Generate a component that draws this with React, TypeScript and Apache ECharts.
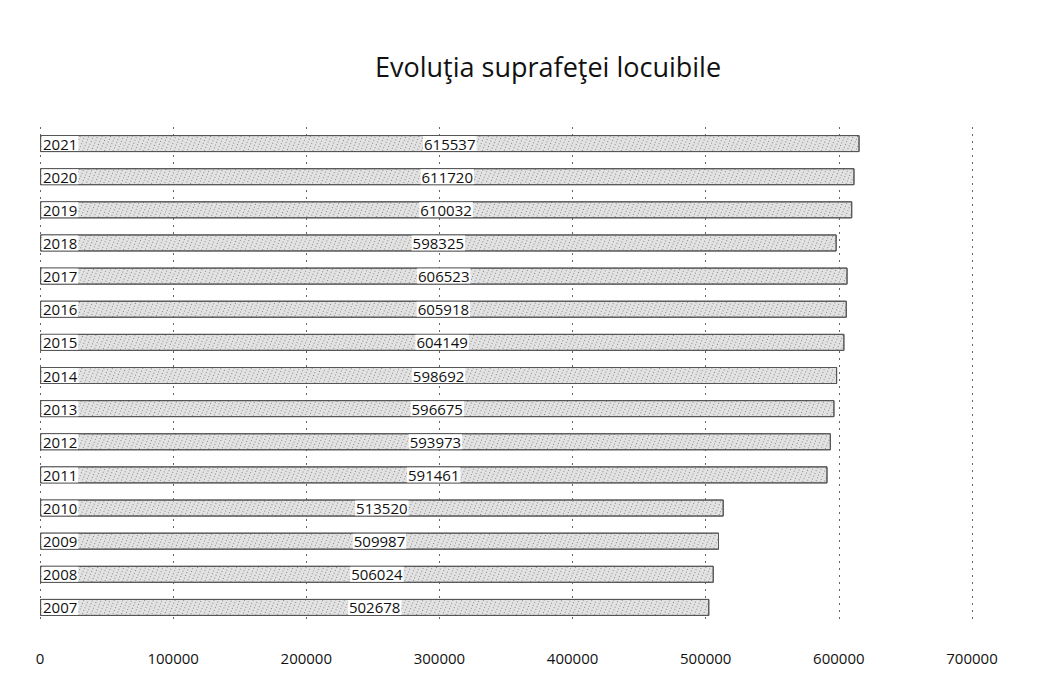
import React, { useEffect, useRef } from "react";
import * as echarts from "echarts";

const years = ["2007", "2008", "2009", "2010", "2011", "2012", "2013", "2014", "2015", "2016", "2017", "2018", "2019", "2020", "2021"];
const values = [502678, 506024, 509987, 513520, 591461, 593973, 596675, 598692, 604149, 605918, 606523, 598325, 610032, 611720, 615537];
const titleText = "Evoluţia suprafeţei locuibile";

export default function App() {
  const ref = useRef<HTMLDivElement>(null);
  useEffect(() => {
    if (!ref.current) return;
    const chart = echarts.init(ref.current, null, { renderer: "svg" });
    const font = "Open Sans";
    chart.setOption({
      animation: false,
      backgroundColor: "#ffffff",
      aria: { enabled: true, decal: { show: true } },
      title: {
        text: titleText,
        left: 362,
        top: 40,
        textStyle: { fontFamily: font, fontSize: 27, fontWeight: "normal", color: "#111" },
      },
      grid: { left: 32, right: 58, top: 119, bottom: 53, containLabel: false },
      xAxis: {
        type: "value",
        min: 0,
        max: 700000,
        interval: 100000,
        axisLine: { show: false },
        axisTick: { show: false },
        axisLabel: { color: "#111", fontFamily: font, fontSize: 15, margin: 26, formatter: (v: number) => String(v) },
        splitLine: { show: true, lineStyle: { color: "#666", type: [2, 5], width: 1 } },
      },
      yAxis: {
        type: "category",
        data: years,
        axisLine: { show: false },
        axisTick: { show: false },
        axisLabel: {
          inside: true,
          color: "#111",
          fontFamily: font,
          fontSize: 15,
          margin: 2,
          verticalAlign: "middle",
          backgroundColor: "#ffffff",
          padding: [0, 1, 0, 1],
        },
        z: 10,
      },
      series: [
        {
          type: "bar",
          data: values,
          barWidth: 17,
          z: 2,
          itemStyle: {
            color: "#e2e2e2",
            borderColor: "#555",
            borderWidth: 1,
            decal: {
              symbol: "rect",
              symbolSize: 1,
              color: "rgba(0,0,0,0.4)",
              dashArrayX: [1, 3],
              dashArrayY: [1, 2],
              rotation: 0.4,
            },
          },
          label: {
            show: true,
            position: "inside",
            color: "#111",
            fontFamily: font,
            fontSize: 15,
            backgroundColor: "#ffffff",
            padding: [0, 1, 0, 1],
          },
        },
      ],
    });
    return () => chart.dispose();
  }, []);
  return <div ref={ref} style={{ width: 1022, height: 669 }} />;
}
